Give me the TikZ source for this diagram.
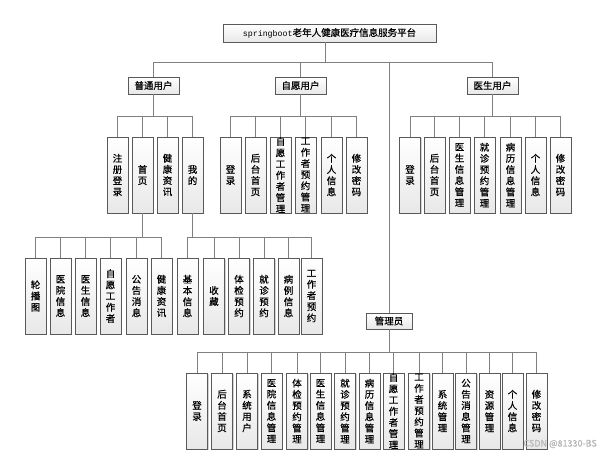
\documentclass[tikz,border=0pt]{standalone}
\usepackage{fontspec}
\setmainfont{Noto Sans CJK SC}[FakeBold=0.6]
\newfontfamily\monof{Liberation Mono}
\usetikzlibrary{shadows}
\ExplSyntaxOn
\NewDocumentCommand\vt{m}{
  \tl_set:Nx \l_tmpa_tl {#1}
  \seq_clear:N \l_tmpa_seq
  \tl_map_inline:Nn \l_tmpa_tl { \seq_put_right:Nn \l_tmpa_seq {##1} }
  \seq_use:Nn \l_tmpa_seq {\\}
}
\ExplSyntaxOff
\newcommand\treeconn[4]{%
  \draw[link] (#1.south) -- (#1.south |- #4);
  \draw[link] (#21.north |- #4) -- (#2#3.north |- #4);
  \foreach \i in {1,...,#3} {\draw[link] (#2\i.north) -- (#2\i.north |- #4);}
}
\begin{document}
\begin{tikzpicture}[x=1pt,y=-1pt,
  box/.style={draw=black!65, line width=0.7pt, top color=white, bottom color=black!9,
    drop shadow={shadow xshift=1.3pt, shadow yshift=-1.3pt, fill=black!35, opacity=0.5},
    inner sep=0pt, font=\fontsize{9.5}{11.2}\selectfont},
  hbox/.style={box, minimum height=17pt},
  vbox/.style={box, minimum width=21pt, minimum height=76pt, text width=21pt, align=center},
  link/.style={draw=black!50, line width=1pt}]
\fill[white] (0,0) rectangle (605,456);
\useasboundingbox (0,0) rectangle (605,456);

% bus coordinates
\coordinate (bus0) at (0,62);
\coordinate (bus1) at (0,116);
\coordinate (bus2) at (0,237);
\coordinate (bus3) at (0,352);

% top
\node[hbox, minimum width=213pt, minimum height=18pt] (title) at (329.5,33)
  {{\monof\fontsize{8.3}{9}\selectfont springboot}老年人健康医疗信息服务平台};

\node[hbox, minimum width=51pt] (u1) at (153.5,85.5) {普通用户};
\node[hbox, minimum width=51pt] (u2) at (300.5,85.5) {自愿用户};
\node[hbox, minimum width=51pt] (u3) at (492.5,85.5) {医生用户};
\node[hbox, minimum width=46pt, minimum height=16pt] (adm) at (389,321) {管理员};

% level 2
\foreach \x/\t [count=\i] in {117.5/注册登录,142.5/首页,167.5/健康资讯,192.5/我的}
  \node[vbox] (a\i) at (\x,175) {\vt{\t}};
\foreach \x/\t [count=\i] in {230.5/登录,255.5/后台首页,280.5/自愿工作者管理,305.5/工作者预约管理,331.5/个人信息,356.5/修改密码}
  \node[vbox] (v\i) at (\x,175) {\vt{\t}};
\foreach \x/\t [count=\i] in {410/登录,434.5/后台首页,459.5/医生信息管理,484.5/就诊预约管理,510.5/病历信息管理,535.5/个人信息,560.5/修改密码}
  \node[vbox] (d\i) at (\x,175) {\vt{\t}};

% level 3
\foreach \x/\t [count=\i] in {35.5/轮播图,60.5/医院信息,85.5/医生信息,110.5/自愿工作者,136.5/公告消息,161.5/健康资讯}
  \node[vbox] (h\i) at (\x,296) {\vt{\t}};
\foreach \x/\t [count=\i] in {187.5/基本信息,214/收藏,239/体检预约,264/就诊预约,288.5/病例信息,311.5/工作者预约}
  \node[vbox] (m\i) at (\x,296) {\vt{\t}};

% admin children
\foreach \x/\t [count=\i] in {197/登录,222/后台首页,247/系统用户,271.5/医院信息管理,297/体检预约管理,320.5/医生信息管理,345/就诊预约管理,369.5/病历信息管理,393.5/自愿工作者管理,419/工作者预约管理,442.5/系统管理,466/公告消息管理,489.5/资源管理,512.5/个人信息,536.5/修改密码}
  \node[vbox] (s\i) at (\x,411) {\vt{\t}};

% connectors
\draw[link] ([xshift=-4.5pt]title.south) -- ([xshift=-4.5pt]title.south |- bus0);
\draw[link] (u1.north |- bus0) -- (u3.north |- bus0);
\foreach \n in {u1,u2,u3} {\draw[link] (\n.north) -- (\n.north |- bus0);}
\draw[link] (adm.north) -- (adm.north |- bus0);

\treeconn{u1}{a}{4}{bus1}
\treeconn{u2}{v}{6}{bus1}
\treeconn{u3}{d}{7}{bus1}
\treeconn{a2}{h}{6}{bus2}
\treeconn{a4}{m}{6}{bus2}
\treeconn{adm}{s}{15}{bus3}

\node[text=black!28, font=\fontsize{9}{10}\selectfont, anchor=east, inner sep=0pt] (wm) at (597,444) {CSDN @81330-BS};
\end{tikzpicture}
\end{document}
